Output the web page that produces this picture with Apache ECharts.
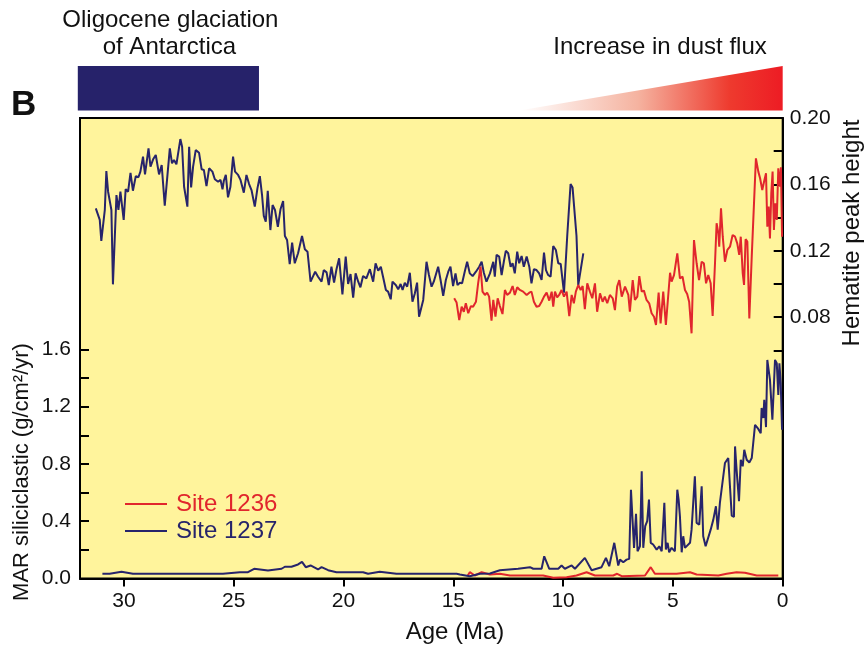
<!DOCTYPE html>
<html>
<head>
<meta charset="utf-8">
<script src="https://cdn.jsdelivr.net/npm/echarts@6/dist/echarts.min.js"></script>
<style>
html,body{margin:0;padding:0;background:#fff;}
#chart{width:868px;height:649px;}
</style>
</head>
<body>
<div id="chart"></div>
<script>
// ---- Data (Age in Ma) ----
// Hematite peak height, Site 1237
const hem1237Age = [31.28,31.10,31.03,30.87,30.80,30.72,30.57,30.50,30.34,30.25,30.16,30.01,29.92,29.81,29.70,29.59,29.46,29.34,29.25,29.13,29.04,28.88,28.79,28.67,28.55,28.40,28.28,28.14,27.91,27.81,27.72,27.61,27.43,27.35,27.26,27.11,27.03,26.94,26.85,26.73,26.58,26.46,26.36,26.24,26.12,25.97,25.86,25.71,25.60,25.51,25.45,25.36,25.26,25.15,25.03,24.94,24.80,24.69,24.54,24.42,24.30,24.19,24.04,23.92,23.81,23.71,23.63,23.54,23.45,23.33,23.23,23.12,22.99,22.87,22.75,22.67,22.57,22.45,22.34,22.22,22.07,21.89,21.76,21.64,21.50,21.41,21.29,21.16,21.00,20.90,20.77,20.67,20.55,20.43,20.32,20.20,20.05,19.90,19.79,19.68,19.56,19.45,19.33,19.23,19.11,18.96,18.80,18.65,18.54,18.42,18.30,18.20,18.07,17.97,17.85,17.77,17.62,17.51,17.40,17.31,17.21,17.10,16.98,16.86,16.75,16.65,16.56,16.37,16.22,16.11,15.99,15.89,15.80,15.69,15.58,15.46,15.34,15.23,15.13,15.01,14.90,14.81,14.70,14.60,14.47,14.37,14.25,14.12,13.97,13.82,13.71,13.61,13.49,13.33,13.18,13.11,13.03,12.91,12.80,12.70,12.61,12.50,12.39,12.30,12.20,12.09,12.00,11.89,11.79,11.66,11.54,11.44,11.33,11.21,11.09,10.98,10.87,10.78,10.68,10.57,10.45,10.33,10.22,10.11,9.96,9.81,9.66,9.57,9.39,9.31,9.08];
const hem1237Val = [0.1456,0.1386,0.126,0.1446,0.168,0.1556,0.1446,0.0998,0.1536,0.1446,0.1556,0.1386,0.1572,0.1556,0.167,0.1562,0.165,0.1643,0.1677,0.1767,0.166,0.1817,0.1707,0.1751,0.1777,0.166,0.1717,0.1472,0.1817,0.1727,0.1747,0.1721,0.1873,0.1827,0.1586,0.1466,0.1827,0.1582,0.1707,0.1807,0.1791,0.1691,0.1687,0.159,0.1697,0.1677,0.1631,0.1616,0.1627,0.157,0.1622,0.1657,0.1522,0.1586,0.1767,0.1677,0.1657,0.1627,0.155,0.1657,0.1602,0.1566,0.1466,0.1576,0.165,0.1536,0.141,0.1375,0.1562,0.1325,0.1476,0.1446,0.1345,0.145,0.15,0.1289,0.1265,0.112,0.1249,0.1125,0.1185,0.1289,0.1209,0.1195,0.1014,0.104,0.1074,0.1044,0.1014,0.1084,0.107,0.0994,0.1104,0.1008,0.1089,0.1155,0.0938,0.1165,0.1,0.106,0.0918,0.1064,0.1014,0.098,0.1048,0.1034,0.1089,0.1014,0.1125,0.108,0.1104,0.1044,0.0964,0.0954,0.0908,0.1014,0.0994,0.0968,0.1,0.0964,0.1008,0.0984,0.1068,0.0893,0.0944,0.1008,0.0803,0.0904,0.1134,0.1054,0.0984,0.1014,0.1004,0.1104,0.1024,0.0928,0.1024,0.1074,0.1104,0.0988,0.1064,0.0994,0.1008,0.1004,0.108,0.1134,0.1064,0.1048,0.1074,0.1104,0.1134,0.1068,0.1014,0.1064,0.1134,0.1044,0.1175,0.1165,0.1054,0.1134,0.12,0.1185,0.1104,0.1125,0.1064,0.1195,0.1125,0.1169,0.1104,0.1165,0.1104,0.1004,0.1089,0.1084,0.1064,0.1024,0.1189,0.1084,0.1054,0.1044,0.1229,0.1205,0.1125,0.1121,0.0948,0.1295,0.1602,0.1582,0.1289,0.0994,0.1185];

// Hematite peak height, Site 1236
const hem1236Age = [14.96,14.85,14.73,14.62,14.52,14.43,14.32,14.20,14.10,13.97,13.87,13.76,13.67,13.56,13.46,13.37,13.26,13.18,13.08,12.98,12.88,12.76,12.65,12.55,12.42,12.30,12.20,12.09,11.97,11.82,11.66,11.54,11.44,11.33,11.21,11.09,10.98,10.87,10.75,10.63,10.52,10.45,10.37,10.27,10.18,10.07,9.96,9.84,9.72,9.61,9.51,9.42,9.31,9.20,9.11,9.01,8.90,8.78,8.67,8.55,8.45,8.32,8.20,8.10,7.99,7.87,7.74,7.64,7.54,7.44,7.33,7.18,7.03,6.96,6.83,6.73,6.62,6.53,6.42,6.32,6.20,6.08,5.97,5.86,5.77,5.65,5.56,5.44,5.32,5.13,5.06,4.95,4.80,4.68,4.56,4.45,4.35,4.26,4.15,4.04,3.92,3.81,3.69,3.59,3.49,3.39,3.28,3.19,3.08,3.01,2.93,2.89,2.81,2.73,2.63,2.52,2.40,2.28,2.17,2.07,1.98,1.91,1.82,1.76,1.69,1.61,1.52,1.41,1.34,1.22,1.11,1.03,0.93,0.85,0.76,0.70,0.64,0.58,0.52,0.46,0.40,0.34,0.27,0.20,0.12,0.08,0.03];
const hem1236Val = [0.0914,0.0888,0.0783,0.0863,0.0833,0.0884,0.0824,0.0867,0.0863,0.0893,0.1004,0.1104,0.0954,0.0934,0.0948,0.0924,0.0779,0.0904,0.0803,0.0914,0.0867,0.0819,0.0964,0.0934,0.0948,0.0988,0.0934,0.098,0.0964,0.0954,0.0934,0.0948,0.0954,0.0893,0.0863,0.0867,0.0893,0.0924,0.0948,0.09,0.0954,0.0863,0.0954,0.092,0.0934,0.0964,0.0924,0.0954,0.0807,0.0934,0.0884,0.0954,0.0994,0.0964,0.0988,0.0848,0.1004,0.0954,0.0914,0.1004,0.0833,0.0944,0.0893,0.0924,0.0884,0.0934,0.0914,0.0843,0.0984,0.1024,0.0924,0.0984,0.0934,0.0833,0.1024,0.0904,0.0924,0.1048,0.0954,0.096,0.0904,0.0884,0.0824,0.0803,0.0753,0.0948,0.0763,0.0954,0.0753,0.1068,0.1014,0.1054,0.1185,0.1034,0.1044,0.0964,0.094,0.0893,0.0703,0.1265,0.1125,0.1024,0.1134,0.1125,0.1004,0.1054,0.1004,0.0807,0.1134,0.1366,0.1305,0.1225,0.1456,0.1285,0.1134,0.1205,0.1225,0.1295,0.1285,0.1245,0.1175,0.1285,0.1064,0.0994,0.127,0.1255,0.0793,0.1165,0.1155,0.1757,0.1677,0.1637,0.1566,0.1616,0.1667,0.1345,0.1466,0.1275,0.1546,0.1677,0.1325,0.1486,0.1386,0.1697,0.1586,0.1703,0.1285];

// MAR siliciclastic (g/cm2/yr), Site 1237
const mar1237Age = [30.98,30.65,30.11,29.59,25.49,24.72,24.35,24.07,23.44,22.82,22.67,22.37,22.07,21.89,21.72,21.50,21.16,21.00,20.70,20.32,19.11,18.88,18.35,17.59,14.85,14.70,14.25,13.79,13.33,12.88,12.05,11.51,11.36,10.98,10.86,10.63,10.22,10.07,9.92,9.61,9.46,9.01,8.70,8.25,8.05,7.90,7.67,7.49,7.41,7.26,7.11,6.99,6.91,6.77,6.68,6.61,6.50,6.42,6.35,6.26,6.17,6.09,6.01,5.90,5.74,5.62,5.51,5.39,5.32,5.24,5.17,5.06,4.91,4.80,4.74,4.68,4.60,4.53,4.45,4.37,4.22,4.15,4.00,3.92,3.80,3.69,3.62,3.51,3.28,3.16,3.04,2.96,2.86,2.63,2.48,2.32,2.22,2.17,2.10,1.99,1.91,1.82,1.75,1.64,1.52,1.41,1.26,1.14,1.00,0.96,0.88,0.84,0.76,0.70,0.58,0.47,0.35,0.27,0.20,0.15,0.09,0.03];
const mar1237Val = [0.033,0.033,0.047,0.033,0.033,0.044,0.044,0.068,0.056,0.068,0.082,0.082,0.098,0.116,0.079,0.091,0.063,0.079,0.058,0.044,0.044,0.033,0.047,0.033,0.033,0.028,0.016,0.033,0.035,0.058,0.068,0.079,0.068,0.068,0.155,0.068,0.068,0.091,0.068,0.091,0.068,0.144,0.058,0.079,0.144,0.086,0.249,0.091,0.132,0.114,0.132,0.137,0.62,0.214,0.451,0.19,0.225,0.748,0.214,0.365,0.4,0.551,0.249,0.237,0.202,0.225,0.19,0.528,0.202,0.249,0.183,0.214,0.19,0.62,0.551,0.434,0.183,0.295,0.214,0.225,0.249,0.341,0.713,0.388,0.376,0.643,0.295,0.225,0.341,0.411,0.504,0.341,0.528,0.806,0.841,0.439,0.43,0.922,0.76,0.539,0.829,0.783,0.899,0.829,0.81,0.841,1.073,1.05,1.015,1.19,1.12,1.247,1.057,1.526,1.387,1.108,1.526,1.503,1.282,1.503,1.364,1.038];

// MAR siliciclastic (g/cm2/yr), Site 1236
const mar1236Age = [14.34,14.25,14.02,13.71,13.33,12.88,12.42,10.91,10.45,9.84,9.39,8.93,8.55,7.72,7.54,7.33,6.27,6.01,5.82,4.83,4.76,4.22,3.92,2.93,2.55,2.10,1.72,1.18,0.20];
const mar1236Val = [0.021,0.044,0.021,0.044,0.028,0.033,0.021,0.021,0.005,0.009,0.021,0.044,0.021,0.021,0.033,0.016,0.021,0.079,0.033,0.033,0.044,0.044,0.028,0.021,0.033,0.044,0.04,0.021,0.021];

// Axis ticks / labels
const ageTicks = [0,5,10,15,20,25,30];
const marTicks = [0,0.2,0.4,0.6,0.8,1.0,1.2,1.4,1.6];
const marLabels = [0,0.4,0.8,1.2,1.6];
const hemTicks = [0.06,0.08,0.10,0.12,0.14,0.16,0.18,0.20];
const hemLabels = [0.08,0.12,0.16,0.20];

// Annotation spans (Ma)
const glaciationSpan = [32.1, 23.85];
const dustFluxSpan = [12.0, 0];

const zip = (a, b) => a.map((x, i) => [x, b[i]]);

const NAVY = '#27246b';
const RED = '#e1262d';
const FONT = '"Liberation Sans", Arial, Helvetica, sans-serif';

const chart = echarts.init(document.getElementById('chart'), null, {renderer: 'canvas'});

const option = {
  animation: false,
  backgroundColor: '#ffffff',
  textStyle: {fontFamily: FONT},
  grid: {
    left: 80, right: 85.3, top: 118, bottom: 70.5,
    show: true, backgroundColor: '#fff49c', borderColor: '#000', borderWidth: 2
  },
  legend: {
    orient: 'vertical', left: 120, top: 487,
    itemWidth: 42, itemHeight: 2, itemGap: 3, icon: 'rect',
    textStyle: {fontSize: 24, fontFamily: FONT, padding: [0, 0, 0, 4]},
    data: [
      {name: 'Site 1236', textStyle: {color: RED}},
      {name: 'Site 1237', textStyle: {color: NAVY}}
    ],
    selectedMode: false
  },
  xAxis: {
    type: 'value', min: 0, max: 32, inverse: true,
    axisLine: {show: true, onZero: false, lineStyle: {color: '#000', width: 2}},
    axisTick: {show: true, inside: false, length: 8, customValues: ageTicks, lineStyle: {color: '#000', width: 2}},
    axisLabel: {show: true, customValues: ageTicks, fontSize: 21, color: '#111', margin: 12, fontFamily: FONT},
    splitLine: {show: false}
  },
  yAxis: [
    {
      type: 'value', position: 'left', min: 0, max: 3.2147,
      axisLine: {show: true, onZero: false, lineStyle: {color: '#000', width: 2}},
      axisTick: {show: true, inside: true, length: 9, customValues: marTicks, lineStyle: {color: '#000', width: 2}},
      axisLabel: {show: true, customValues: marLabels, fontSize: 21, color: '#111', margin: 9, fontFamily: FONT,
        formatter: v => v.toFixed(1)},
      splitLine: {show: false}
    },
    {
      type: 'value', position: 'right', min: -0.0774, max: 0.20,
      axisLine: {show: true, onZero: false, lineStyle: {color: '#000', width: 2}},
      axisTick: {show: true, inside: true, length: 9, customValues: hemTicks, lineStyle: {color: '#000', width: 2}},
      axisLabel: {show: true, customValues: hemLabels, fontSize: 21, color: '#111', margin: 7, fontFamily: FONT,
        formatter: v => v.toFixed(2)},
      splitLine: {show: false}
    }
  ],
  series: [
    {name: 'Site 1237', type: 'line', yAxisIndex: 1, data: zip(hem1237Age, hem1237Val),
      showSymbol: false, symbol: 'none', color: NAVY, lineStyle: {color: NAVY, width: 2}},
    {name: 'Site 1236', type: 'line', yAxisIndex: 1, data: zip(hem1236Age, hem1236Val),
      showSymbol: false, symbol: 'none', color: RED, lineStyle: {color: RED, width: 2}},
    {name: 'Site 1236', type: 'line', yAxisIndex: 0, data: zip(mar1236Age, mar1236Val),
      showSymbol: false, symbol: 'none', color: RED, lineStyle: {color: RED, width: 2}},
    {name: 'Site 1237', type: 'line', yAxisIndex: 0, data: zip(mar1237Age, mar1237Val),
      showSymbol: false, symbol: 'none', color: NAVY, lineStyle: {color: NAVY, width: 2}}
  ]
};
chart.setOption(option);

// Annotations placed through the age scale
const gx0 = chart.convertToPixel({xAxisIndex: 0}, glaciationSpan[0]);
const gx1 = chart.convertToPixel({xAxisIndex: 0}, glaciationSpan[1]);
const dx0 = chart.convertToPixel({xAxisIndex: 0}, dustFluxSpan[0]);
const dx1 = chart.convertToPixel({xAxisIndex: 0}, dustFluxSpan[1]);

chart.setOption({
  graphic: [
    {type: 'rect', shape: {x: gx0, y: 66, width: gx1 - gx0, height: 44.5}, style: {fill: '#26226a'}},
    {type: 'polygon', shape: {points: [[dx0, 110.5], [dx1, 110.5], [dx1, 66]]},
      style: {fill: new echarts.graphic.LinearGradient(0, 0, 1, 0, [
        {offset: 0, color: 'rgba(255,255,255,1)'},
        {offset: 0.45, color: '#f5b3a0'},
        {offset: 0.8, color: '#ee3a2e'},
        {offset: 1, color: '#ed1c24'}
      ])}},
    {type: 'text', x: (gx0 + gx1) / 2 + 2, y: 20, style: {text: 'Oligocene glaciation', font: '24px ' + FONT, fill: '#111', align: 'center', verticalAlign: 'middle'}},
    {type: 'text', x: (gx0 + gx1) / 2 + 1, y: 47, style: {text: 'of Antarctica', font: '24px ' + FONT, fill: '#111', align: 'center', verticalAlign: 'middle'}},
    {type: 'text', x: 660, y: 47, style: {text: 'Increase in dust flux', font: '24px ' + FONT, fill: '#111', align: 'center', verticalAlign: 'middle'}},
    {type: 'text', x: 11, y: 105, style: {text: 'B', font: 'bold 35px ' + FONT, fill: '#111', align: 'left', verticalAlign: 'middle'}},
    {type: 'text', x: 455, y: 632, style: {text: 'Age (Ma)', font: '24px ' + FONT, fill: '#111', align: 'center', verticalAlign: 'middle'}},
    {type: 'text', x: 22, y: 472, rotation: Math.PI / 2, style: {text: 'MAR siliciclastic (g/cm²/yr)', font: '22px ' + FONT, fill: '#111', align: 'center', verticalAlign: 'middle'}},
    {type: 'text', x: 852, y: 233, rotation: Math.PI / 2, style: {text: 'Hematite peak height', font: '24px ' + FONT, fill: '#111', align: 'center', verticalAlign: 'middle'}}
  ]
});
</script>
</body>
</html>
